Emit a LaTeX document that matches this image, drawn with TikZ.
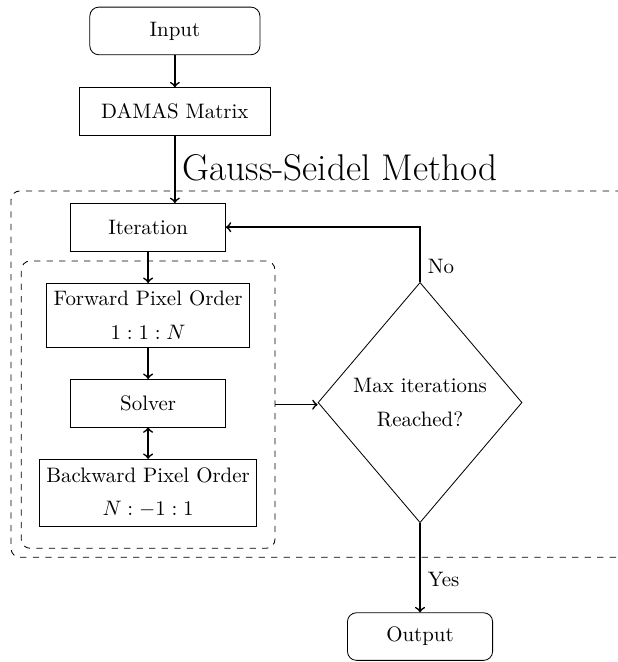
\documentclass[tikz,border=0pt]{standalone}
\usepackage{amsmath}
\usepackage{amssymb}
\usepackage{tikz}
\usetikzlibrary{positioning,shapes.geometric,arrows,fit}

\begin{document}
\begin{tikzpicture}[
    block/.style={rectangle, draw=black, minimum width=2.6cm, minimum height=0.8cm,
        text centered, align=center, text=black},
    twoline/.style={block, minimum height=1.07cm},
    term/.style={block, rounded corners=1.5mm, minimum width=2.86cm},
    decision/.style={diamond, draw=black, minimum width=3.43cm, minimum height=4.04cm,
        align=center, inner sep=0pt, text=black},
    group/.style={draw=black, dashed, rounded corners=1.5mm},
    flow/.style={->, thick},
    node distance=0.53cm
]
\useasboundingbox (0,0) rectangle (10.375,-11.13);

\node (In) [term] at (2.94,-0.52) {Input};
\node (Dm) [block, minimum width=3.2cm, below=0.54cm of In] {DAMAS Matrix};

% the Gauss-Seidel loop
\node (It) [block] at (2.49,-3.82) {Iteration};
\node (Fw) [twoline, below=of It] {Forward Pixel Order\\[4pt] $1:1:N$};
\node (Sv) [block, below=of Fw] {Solver};
\node (Bw) [twoline, minimum height=1.12cm, below=of Sv] {Backward Pixel Order\\[4pt] $N:-1:1$};
\node (Sweep) [group, fit=(Fw)(Bw), inner xsep=8.5pt, inner ysep=10.5pt] {};

\node (Dc) [decision, yshift=1pt, right=0.71cm of Sweep] {Max iterations\\[4pt] Reached?};
\node (Out) [term, minimum width=2.44cm, below=1.5cm of Dc] {Output};

\node (GS) [group, fit={(0.185,-3.21) (10.6,-9.37)}, inner sep=0pt] {};
\node (GSlabel) [font=\fontsize{17.8pt}{21pt}\selectfont, anchor=base] at (5.72,-3.03) {Gauss-Seidel Method};

\draw [flow] (In) -- (Dm);
\draw [flow] (Dm.south) -- (Dm.south |- It.north);
\draw [flow] (It) -- (Fw);
\draw [flow] (Fw) -- (Sv);
\draw [<->, thick] (Sv) -- (Bw);
\draw [flow] (Sweep) -- (Sweep -| Dc.west);
\draw [flow] (Dc.north) |- node[pos=0.14, right] {No} (It.east);
\draw [flow] (Dc) -- node[pos=0.63, right] {Yes} (Out);

\end{tikzpicture}
\end{document}
